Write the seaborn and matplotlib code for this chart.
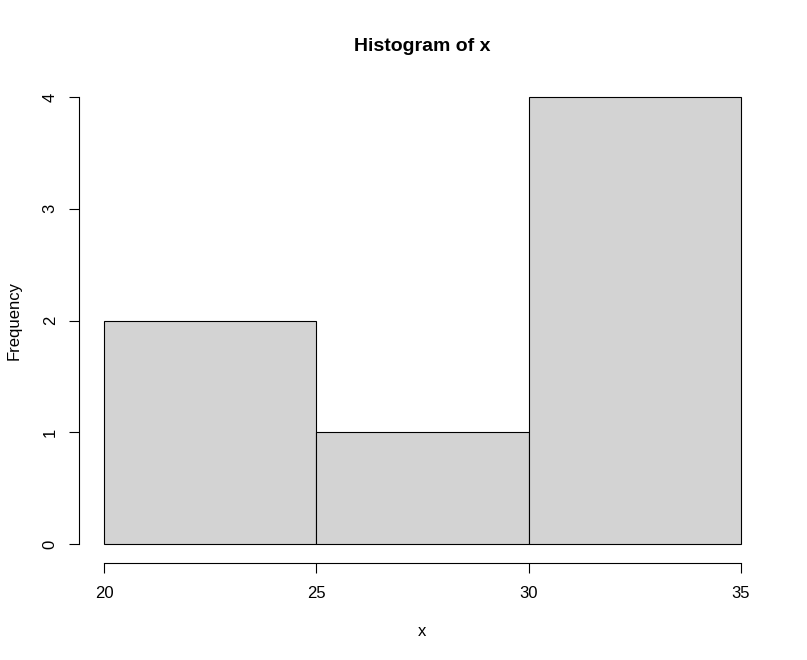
import numpy as np
import pandas as pd
import seaborn as sns
import matplotlib.pyplot as plt

# histogram bins and counts
bin_edges = [20, 25, 30, 35]
bin_mids = [22.5, 27.5, 32.5]
counts = [2, 1, 4]
x_ticks = [20, 25, 30, 35]
y_ticks = [0, 1, 2, 3, 4]

df = pd.DataFrame({'x': bin_mids, 'n': counts})

sns.set_style('white')
plt.rcParams['font.family'] = ['Liberation Sans', 'DejaVu Sans']

fig = plt.figure(figsize=(8.07, 6.6), dpi=100)
ax = fig.add_axes([78.5 / 807, (660 - 562) / 660, 688 / 807, 483 / 660])

sns.histplot(data=df, x='x', weights='n', bins=bin_edges, ax=ax,
             color='#D3D3D3', edgecolor='black', linewidth=0.8, alpha=1)

ax.set_xlim(19.4, 35.6)
ax.set_ylim(-0.16, 4.16)
ax.set_xticks(x_ticks)
ax.set_yticks(y_ticks)
ax.set_yticklabels([str(t) for t in y_ticks], rotation=90, va='center')

for s in ['top', 'right']:
    ax.spines[s].set_visible(False)
ax.spines['left'].set_bounds(0, 4)
ax.spines['bottom'].set_bounds(20, 35)
ax.spines['bottom'].set_position(('outward', 1))
for s in ['left', 'bottom']:
    ax.spines[s].set_linewidth(0.8)
    ax.spines[s].set_color('black')
ax.tick_params(axis='both', which='major', bottom=True, left=True, direction='out',
               length=7, width=0.8, color='black', labelsize=12, labelcolor='black')
ax.tick_params(axis='x', pad=9)
ax.tick_params(axis='y', pad=8)

ax.set_title('Histogram of x', fontsize=14, fontweight='bold', pad=20, color='black')
ax.set_xlabel('x', fontsize=12, labelpad=17, color='black')
ax.set_ylabel('Frequency', fontsize=12, labelpad=15, color='black')

fig.savefig('out.png', dpi=100)
